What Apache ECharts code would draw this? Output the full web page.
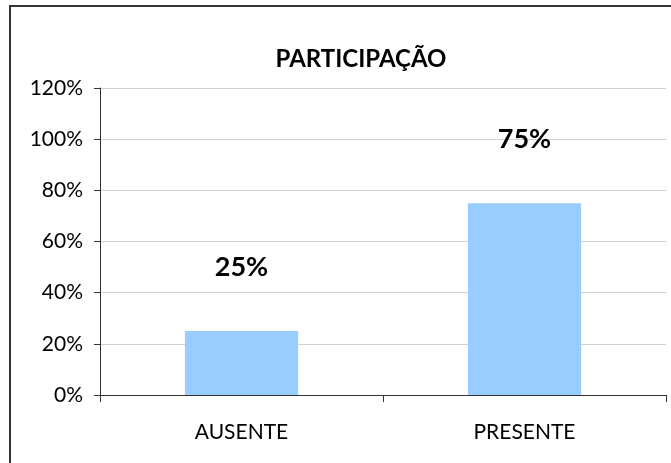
<!DOCTYPE html>
<html>
<head>
<meta charset="utf-8">
<script src="https://cdn.jsdelivr.net/npm/echarts@6/dist/echarts.min.js"></script>
<style>
  html, body { margin: 0; padding: 0; background: #fff; }
  #main { width: 671px; height: 463px; }
</style>
</head>
<body>
<div id="main"></div>
<script>
var chartDom = document.getElementById('main');
var myChart = echarts.init(chartDom);
var option;

// categorias e valores (%)
const categorias = ['AUSENTE', 'PRESENTE'];
const valores = [25, 75];
const fonte = 'Lato, "Open Sans", sans-serif';

option = {
  animation: false,
  backgroundColor: '#fff',
  graphic: [{
    type: 'rect',
    shape: { x: 10, y: 6, width: 700, height: 500 },
    style: { fill: 'none', stroke: '#333', lineWidth: 2 },
    silent: true
  }],
  title: {
    text: 'PARTICIPAÇÃO',
    left: 356,
    textAlign: 'center',
    top: 42,
    textStyle: { fontFamily: fonte, fontWeight: 'bold', fontSize: 24, color: '#000' }
  },
  grid: { left: 100, right: 5, top: 88, bottom: 68 },
  xAxis: {
    type: 'category',
    data: categorias,
    axisLine: { lineStyle: { color: '#333', width: 1 } },
    axisTick: { show: true, length: 7, lineStyle: { color: '#333' } },
    axisLabel: { fontFamily: fonte, fontSize: 21, color: '#000', margin: 27 }
  },
  yAxis: {
    type: 'value',
    min: 0,
    max: 120,
    interval: 20,
    axisLine: { show: true, lineStyle: { color: '#333', width: 1 } },
    axisTick: { show: true, length: 6, inside: false, lineStyle: { color: '#333' } },
    axisLabel: { fontFamily: fonte, fontSize: 21, color: '#000', margin: 17, formatter: '{value}%' },
    splitLine: { lineStyle: { color: '#d0d0d0', width: 1 } }
  },
  series: [{
    type: 'bar',
    data: valores,
    barWidth: '40%',
    itemStyle: { color: '#99ccff' },
    label: {
      show: true,
      position: 'top',
      distance: 50,
      formatter: '{c}%',
      fontFamily: fonte,
      fontWeight: 'bold',
      fontSize: 27,
      color: '#000'
    }
  }]
};

option && myChart.setOption(option);
</script>
</body>
</html>
